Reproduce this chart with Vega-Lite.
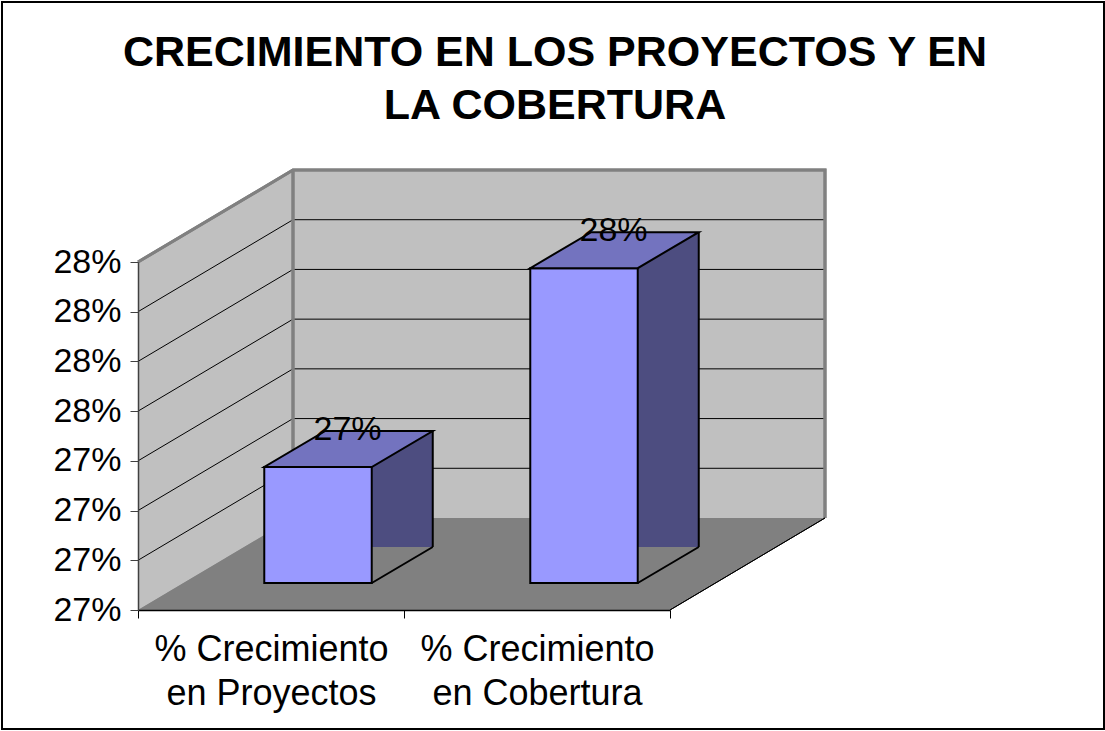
{
  "$schema": "https://vega.github.io/schema/vega-lite/v6.json",
  "autosize": "none",
  "width": 532,
  "height": 348,
  "padding": {"left": 138, "top": 262, "right": 435, "bottom": 121},
  "background": "white",
  "config": {"font": "Liberation Sans", "view": {"stroke": null}},
  "title": {
    "text": ["CRECIMIENTO EN LOS PROYECTOS Y EN", "LA COBERTURA"],
    "font": "Liberation Sans",
    "fontSize": 43,
    "fontWeight": "bold",
    "color": "black",
    "anchor": "middle",
    "frame": "group",
    "dx": 151,
    "offset": -130,
    "lineHeight": 53
  },
  "datasets": {
    "bars": [
      {"categoria": "% Crecimiento en Proyectos", "valor": 0.2735},
      {"categoria": "% Crecimiento en Cobertura", "valor": 0.2795}
    ],
    "grid": [
      {"tick": 0.2715},
      {"tick": 0.273},
      {"tick": 0.2745},
      {"tick": 0.276},
      {"tick": 0.2775},
      {"tick": 0.279}
    ]
  },
  "data": {"name": "bars"},
  "layer": [
    {
      "mark": {"type": "point", "shape": "M-269,-608H833V119H-269Z", "size": 4, "filled": false, "stroke": "black", "strokeWidth": 2, "opacity": 1},
      "encoding": {
        "x": {"datum": "% Crecimiento en Proyectos", "type": "nominal"},
        "y": {"datum": 0.27, "type": "quantitative"}
      }
    },
    {
      "mark": {"type": "point", "shape": "M-133,0L-133,-348L22,-440L554,-440L554,-92L22,-92Z", "size": 4, "filled": true, "fill": "#C0C0C0", "strokeWidth": 0, "opacity": 1},
      "encoding": {
        "x": {"datum": "% Crecimiento en Proyectos", "type": "nominal"},
        "y": {"datum": 0.27, "type": "quantitative"}
      }
    },
    {
      "mark": {"type": "point", "shape": "M-133,0L22,-92L554,-92L399,0Z", "size": 4, "filled": true, "fill": "#808080", "strokeWidth": 0, "opacity": 1},
      "encoding": {
        "x": {"datum": "% Crecimiento en Proyectos", "type": "nominal"},
        "y": {"datum": 0.27, "type": "quantitative"}
      }
    },
    {
      "data": {"name": "grid"},
      "mark": {"type": "point", "shape": "M-133,0L22,-92L554,-92", "size": 4, "filled": false, "stroke": "black", "strokeWidth": 1, "opacity": 1},
      "encoding": {
        "x": {"datum": "% Crecimiento en Proyectos", "type": "nominal"},
        "y": {"field": "tick", "type": "quantitative", "scale": {"domain": [0.27, 0.2805], "nice": false, "zero": false}}
      }
    },
    {
      "mark": {"type": "point", "shape": "M-133,-348L22,-440L554,-440L554,-92M22,-440L22,-92", "size": 4, "filled": false, "stroke": "#808080", "strokeWidth": 3, "opacity": 1},
      "encoding": {
        "x": {"datum": "% Crecimiento en Proyectos", "type": "nominal"},
        "y": {"datum": 0.27, "type": "quantitative"}
      }
    },
    {
      "mark": {"type": "point", "shape": "M399,0L554,-92", "size": 4, "filled": false, "stroke": "black", "strokeWidth": 1, "opacity": 1},
      "encoding": {
        "x": {"datum": "% Crecimiento en Proyectos", "type": "nominal"},
        "y": {"datum": 0.27, "type": "quantitative"}
      }
    },
    {
      "mark": {"type": "bar", "width": {"band": 0.404}, "xOffset": 108, "yOffset": -63, "y2Offset": -63, "fill": "#4D4D80", "strokeWidth": 0},
      "encoding": {
        "x": {
          "field": "categoria", "type": "nominal", "sort": null,
          "scale": {"paddingInner": 0, "paddingOuter": 0},
          "axis": {
            "orient": "bottom",
            "title": null,
            "tickBand": "extent",
            "tickSize": 8,
            "tickColor": "black",
            "domainColor": "black",
            "domainWidth": 1.5,
            "labelAngle": 0,
            "labelAlign": "center",
            "labelFlush": false,
            "labelFont": "Liberation Sans",
            "labelFontSize": 36,
            "labelColor": "black",
            "labelLineHeight": 44,
            "labelPadding": 31,
            "labelLimit": 400,
            "labelExpr": "[slice(datum.label, 0, 13), slice(datum.label, 14)]",
            "zindex": 1
          }
        },
        "y": {
          "field": "valor", "type": "quantitative",
          "scale": {"domain": [0.27, 0.2805], "nice": false, "zero": false},
          "axis": {
            "orient": "left",
            "title": null,
            "values": [0.27, 0.2715, 0.273, 0.2745, 0.276, 0.2775, 0.279, 0.2805],
            "format": ".0%",
            "grid": false,
            "tickSize": 8,
            "tickColor": "#404040",
            "domainColor": "#404040",
            "domainWidth": 1.5,
            "labelFont": "Liberation Sans",
            "labelFontSize": 34,
            "labelColor": "black",
            "labelPadding": 9,
            "zindex": 1
          }
        },
        "y2": {"datum": 0.27}
      }
    },
    {
      "mark": {"type": "rule", "xOffset": 161.75, "yOffset": -63, "y2Offset": -63, "stroke": "black", "strokeWidth": 2},
      "encoding": {
        "x": {"field": "categoria", "type": "nominal", "sort": null},
        "y": {"field": "valor", "type": "quantitative"},
        "y2": {"datum": 0.27}
      }
    },
    {
      "mark": {"type": "point", "shape": "M0,0L61,-36", "size": 4, "filled": false, "stroke": "black", "strokeWidth": 2, "opacity": 1, "xOffset": 100.75, "yOffset": -27},
      "encoding": {
        "x": {"field": "categoria", "type": "nominal", "sort": null},
        "y": {"datum": 0.27, "type": "quantitative"}
      }
    },
    {
      "mark": {"type": "bar", "width": {"band": 0.404}, "xOffset": 47, "yOffset": -27, "y2Offset": -27, "fill": "#9999FF", "stroke": "black", "strokeWidth": 2},
      "encoding": {
        "x": {"field": "categoria", "type": "nominal", "sort": null},
        "y": {"field": "valor", "type": "quantitative"},
        "y2": {"datum": 0.27}
      }
    },
    {
      "mark": {"type": "point", "shape": "M-53.75,0L53.75,0L114.75,-36L7.25,-36Z", "size": 4, "filled": true, "fill": "#7373BF", "stroke": "black", "strokeWidth": 2, "opacity": 1, "xOffset": 47, "yOffset": -27},
      "encoding": {
        "x": {"field": "categoria", "type": "nominal", "sort": null},
        "y": {"field": "valor", "type": "quantitative"}
      }
    },
    {
      "mark": {"type": "text", "font": "Liberation Sans", "fontSize": 34, "color": "black", "align": "center", "baseline": "alphabetic", "xOffset": 76.5, "yOffset": -54},
      "encoding": {
        "x": {"field": "categoria", "type": "nominal", "sort": null},
        "y": {"field": "valor", "type": "quantitative"},
        "text": {"field": "valor", "type": "quantitative", "format": ".0%"}
      }
    }
  ]
}
